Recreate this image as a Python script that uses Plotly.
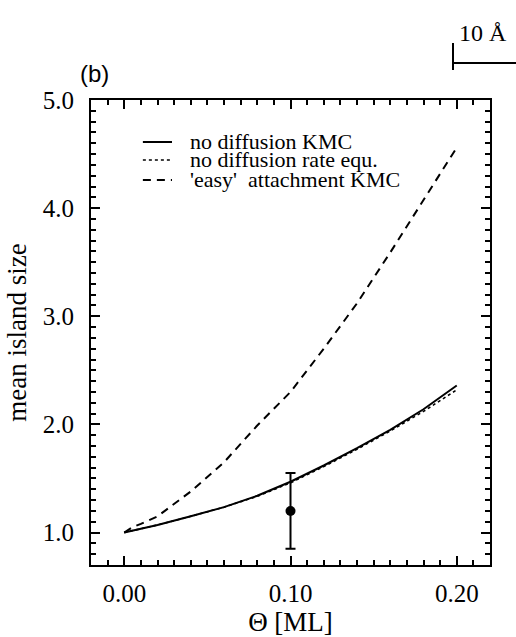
import plotly.graph_objects as go

# ---- data ----
theta = [0.00, 0.02, 0.04, 0.06, 0.08, 0.10, 0.12, 0.14, 0.16, 0.18, 0.20]
kmc_no_diff = [1.00, 1.07, 1.15, 1.235, 1.34, 1.47, 1.62, 1.78, 1.95, 2.14, 2.36]
rate_no_diff = [1.00, 1.07, 1.15, 1.235, 1.335, 1.46, 1.61, 1.77, 1.94, 2.12, 2.32]
theta_easy = [0.00, 0.005, 0.01, 0.02, 0.04, 0.06, 0.08, 0.10, 0.12, 0.14, 0.16, 0.18, 0.20]
kmc_easy = [1.00, 1.05, 1.08, 1.15, 1.38, 1.65, 1.99, 2.30, 2.70, 3.12, 3.59, 4.08, 4.56]
exp_theta = [0.10]
exp_size = [1.20]
exp_err_plus = [0.35]
exp_err_minus = [0.35]

legend_names = ["no diffusion KMC", "no diffusion rate equ.", "'easy'  attachment KMC"]
legend_dash = ["solid", "3px,3px", "8px,6px"]
legend_width = [2, 1.6, 2]

serif = "Liberation Serif"

fig = go.Figure()
fig.add_trace(go.Scatter(x=theta, y=kmc_no_diff, mode="lines",
                         line=dict(color="black", width=2, dash="solid"),
                         name=legend_names[0], showlegend=False))
fig.add_trace(go.Scatter(x=theta, y=rate_no_diff, mode="lines",
                         line=dict(color="black", width=1.6, dash="3px,3px"),
                         name=legend_names[1], showlegend=False))
fig.add_trace(go.Scatter(x=theta_easy, y=kmc_easy, mode="lines",
                         line=dict(color="black", width=2, dash="8px,6px"),
                         name=legend_names[2], showlegend=False))
fig.add_trace(go.Scatter(x=exp_theta, y=exp_size, mode="markers",
                         marker=dict(color="black", size=10),
                         error_y=dict(type="data", array=exp_err_plus, arrayminus=exp_err_minus,
                                      color="black", thickness=2, width=5),
                         showlegend=False))

# manual legend
leg_y = [0.9097, 0.871, 0.828]
for i in range(3):
    fig.add_shape(type="line", xref="paper", yref="paper",
                  x0=0.130, x1=0.203, y0=leg_y[i], y1=leg_y[i],
                  line=dict(color="black", width=legend_width[i], dash=legend_dash[i]))
    fig.add_annotation(xref="paper", yref="paper", x=0.243, y=leg_y[i],
                       xanchor="left", yanchor="middle", text=legend_names[i],
                       showarrow=False, font=dict(family=serif, size=22, color="black"))

# scale bar
fig.add_shape(type="line", xref="paper", yref="paper", x0=0.9073, x1=0.9073,
              y0=1.0645, y1=1.1226, line=dict(color="black", width=2))
fig.add_shape(type="line", xref="paper", yref="paper", x0=0.9073, x1=1.07,
              y0=1.0796, y1=1.0796, line=dict(color="black", width=2))
fig.add_annotation(xref="paper", yref="paper", x=0.9825, y=1.144, text="10 Å",
                   xanchor="center", yanchor="middle",
                   showarrow=False, font=dict(family=serif, size=24, color="black"))
fig.add_annotation(xref="paper", yref="paper", x=0.01, y=1.058, text="(b)",
                   xanchor="center", yanchor="middle",
                   showarrow=False, font=dict(family="Liberation Sans", size=24, color="black"))

axis_common = dict(showline=True, linecolor="black", linewidth=2, mirror="allticks",
                   ticks="inside", tickcolor="black", tickwidth=2, ticklen=9,
                   showgrid=False, zeroline=False, tickmode="linear",
                   tickfont=dict(family=serif, size=25, color="black"))

fig.update_xaxes(range=[-0.02, 0.22], tick0=0, dtick=0.1, tickformat=".2f",
                 minor=dict(dtick=0.01, ticks="inside", ticklen=5, tickcolor="black",
                            tickwidth=2, showgrid=False),
                 title=dict(text="Θ [ML]", font=dict(family=serif, size=27, color="black"),
                            standoff=6),
                 ticklabelstandoff=5,
                 **axis_common)
fig.update_yaxes(range=[0.7, 5.0], tick0=1, dtick=1, tickformat=".1f",
                 minor=dict(dtick=0.1, ticks="inside", ticklen=5, tickcolor="black",
                            tickwidth=2, showgrid=False),
                 title=dict(text="mean island size", font=dict(family=serif, size=27, color="black"),
                            standoff=8),
                 ticklabelstandoff=10,
                 **axis_common)

fig.update_layout(width=516, height=637, autosize=False, template="none",
                  margin=dict(l=91, r=26, t=100, b=72, autoexpand=False),
                  plot_bgcolor="white", paper_bgcolor="white")

fig.write_html("out.html")
